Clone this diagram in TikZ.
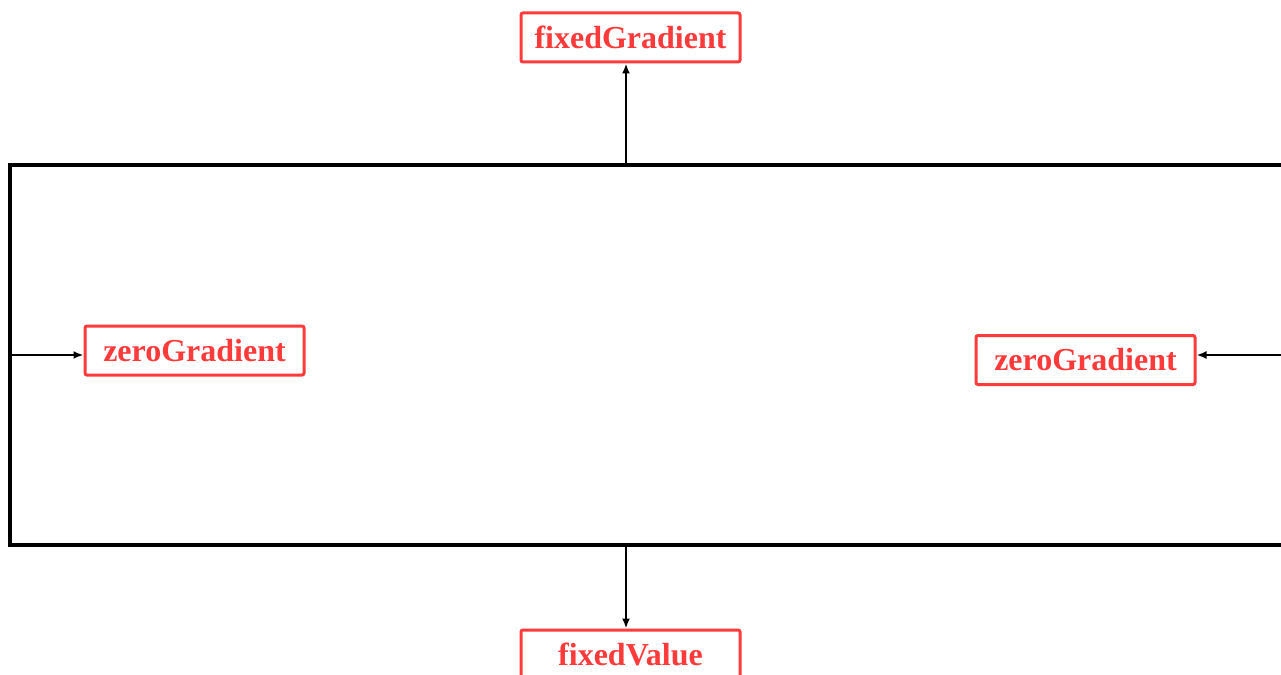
\documentclass[tikz,border=0pt]{standalone}
\usepackage{fontspec}
\setmainfont{Liberation Serif}
\usetikzlibrary{arrows.meta}
\definecolor{bcred}{RGB}{255,58,58}
\begin{document}
\begin{tikzpicture}[x=1pt,y=-1pt,
  bc/.style={draw=bcred, text=bcred, line width=3pt, rounded corners=2pt,
    minimum width=219pt, minimum height=49pt, inner sep=0pt,
    font=\fontsize{32}{36}\selectfont\bfseries},
  conn/.style={line width=2pt, -{Latex[length=10pt,width=8pt]}}]
\useasboundingbox (0,0) rectangle (1281,674);
\draw[line width=4.5pt] (10,165) rectangle (1300,545);
\node[bc] (fg) at (630.5,37.5) {fixedGradient};
\node[bc] (zl) at (194.5,350.5) {zeroGradient};
\node[bc] (zr) at (1085.5,360) {zeroGradient};
\node[bc] (fv) at (630.5,654.5) {fixedValue};
\coordinate (top) at (626,165);
\coordinate (bot) at (626,545);
\coordinate (lft) at (10,355);
\coordinate (rgt) at (1283,355);
\draw[conn] (top) -- (top |- fg.south);
\draw[conn] (bot) -- (bot |- fv.north);
\draw[conn] (lft) -- (lft -| zl.west);
\draw[conn] (rgt) -- (rgt -| zr.east);
\end{tikzpicture}
\end{document}
